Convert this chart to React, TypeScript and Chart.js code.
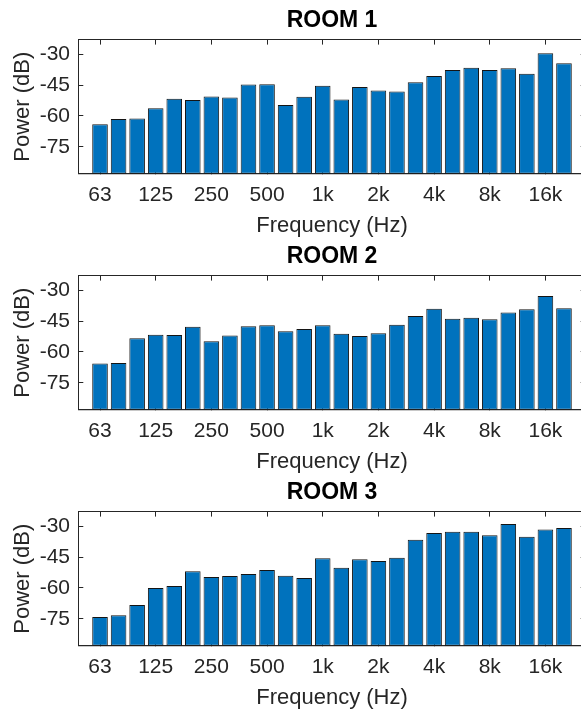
import React, { useEffect, useRef } from "react";
import { Chart, registerables } from "chart.js";

Chart.register(...registerables);

// ---- data ----
const frequencyLabels = ["63", "125", "250", "500", "1k", "2k", "4k", "8k", "16k"];
const labelBandIndex = [0, 3, 6, 9, 12, 15, 18, 21, 24];
const powerTicks = [-75, -60, -45, -30];
const roomTitles = ["ROOM 1", "ROOM 2", "ROOM 3"];

const room1 = [-64.0, -61.4, -61.2, -56.2, -51.6, -52.2, -50.5, -51.0, -44.8, -44.6, -54.7, -50.7, -45.4,
  -52.0, -45.9, -47.7, -48.1, -43.7, -40.6, -37.7, -36.6, -37.7, -36.9, -39.6, -29.6, -34.4];
const room2 = [-65.6, -65.3, -53.3, -51.6, -51.8, -47.8, -54.8, -52.0, -47.5, -47.0, -49.9, -48.9, -47.1,
  -51.2, -52.3, -50.9, -46.8, -42.6, -39.1, -43.9, -43.4, -44.1, -40.9, -39.3, -32.9, -38.8];
const room3 = [-74.1, -73.2, -68.2, -60.0, -59.0, -51.9, -54.7, -54.2, -53.2, -51.3, -54.1, -55.2, -45.6,
  -50.2, -46.1, -46.9, -45.3, -36.6, -33.4, -32.8, -32.7, -34.4, -29.0, -35.2, -31.7, -30.9];
const roomValues = [room1, room2, room3];

// ---- style ----
const FONT = "'Liberation Sans', Arial, Helvetica, sans-serif";
const AXIS = "#262626";
const BAR = "#0072BD";
const X_MIN = -1.17;
const X_MAX = 26.17;
const Y_MIN = -88;
const Y_MAX = -23;
const CANVAS_W = 600;
const CANVAS_H = 250;
const PANEL_STEP = 236;

function inwardGrid() {
  return {
    display: true,
    offset: false,
    drawOnChartArea: false,
    drawTicks: true,
    tickLength: -5,
    tickColor: AXIS,
    tickWidth: 1,
  };
}

function Panel({ title, values, top }: { title: string; values: number[]; top: number }) {
  const ref = useRef<HTMLCanvasElement | null>(null);

  useEffect(() => {
    if (!ref.current) return;
    const chart = new Chart(ref.current, {
      type: "bar",
      data: {
        datasets: [
          {
            data: values.map((v, i) => ({ x: i, y: v })),
            base: Y_MIN,
            backgroundColor: BAR,
            borderColor: "#141414",
            borderWidth: 1,
            borderSkipped: false,
            barPercentage: 0.84,
            categoryPercentage: 1,
          } as any,
        ],
      },
      options: {
        responsive: false,
        animation: false,
        devicePixelRatio: 1,
        layout: { padding: { left: 0, right: 14.3, top: 0, bottom: 0 } },
        plugins: {
          legend: { display: false },
          tooltip: { enabled: false },
          title: {
            display: true,
            text: title,
            fullSize: false,
            color: "#000",
            font: { family: FONT, size: 23, weight: "bold" },
            padding: { top: 7, bottom: 5 },
          },
        },
        scales: {
          x: {
            type: "linear",
            position: "bottom",
            min: X_MIN,
            max: X_MAX,
            offset: false,
            z: 1,
            grid: inwardGrid(),
            border: { display: true, color: AXIS, width: 1.3 },
            ticks: {
              color: AXIS,
              font: { family: FONT, size: 21 },
              padding: 13.6,
              maxRotation: 0,
              autoSkip: false,
              callback: (v: any) => {
                const k = labelBandIndex.indexOf(Number(v));
                return k >= 0 ? frequencyLabels[k] : "";
              },
            },
            afterBuildTicks: (s: any) => {
              s.ticks = labelBandIndex.map((v) => ({ value: v }));
            },
            title: {
              display: true,
              text: "Frequency (Hz)",
              color: AXIS,
              font: { family: FONT, size: 22 },
              padding: { top: 0, bottom: 11 },
            },
            afterFit: (s: any) => {
              s.height = CANVAS_H - 173.8;
            },
          },
          x2: {
            type: "linear",
            position: "top",
            min: X_MIN,
            max: X_MAX,
            offset: false,
            z: 1,
            grid: inwardGrid(),
            border: { display: true, color: AXIS, width: 1 },
            ticks: { display: false },
            afterBuildTicks: (s: any) => {
              s.ticks = labelBandIndex.map((v) => ({ value: v }));
            },
            afterFit: (s: any) => {
              s.height = 0;
            },
          },
          y: {
            type: "linear",
            position: "left",
            min: Y_MIN,
            max: Y_MAX,
            z: 1,
            grid: inwardGrid(),
            border: { display: true, color: AXIS, width: 1 },
            ticks: {
              color: AXIS,
              font: { family: FONT, size: 21 },
              padding: 13.3,
              callback: (v: any) => String(v),
            },
            afterBuildTicks: (s: any) => {
              s.ticks = powerTicks.map((v) => ({ value: v }));
            },
            title: {
              display: true,
              text: "Power (dB)",
              color: AXIS,
              font: { family: FONT, size: 22 },
              padding: { top: 10, bottom: 0 },
            },
            afterFit: (s: any) => {
              s.width = 78.3;
            },
          },
          y2: {
            type: "linear",
            position: "right",
            min: Y_MIN,
            max: Y_MAX,
            z: 1,
            grid: inwardGrid(),
            border: { display: true, color: AXIS, width: 1 },
            ticks: { display: false },
            afterBuildTicks: (s: any) => {
              s.ticks = powerTicks.map((v) => ({ value: v }));
            },
            afterFit: (s: any) => {
              s.width = 0;
            },
          },
        },
      } as any,
    });
    return () => chart.destroy();
  }, [title, values]);

  return (
    <canvas
      ref={ref}
      width={CANVAS_W}
      height={CANVAS_H}
      style={{ position: "absolute", left: 0, top, width: CANVAS_W, height: CANVAS_H, display: "block" }}
    />
  );
}

export default function App() {
  return (
    <div
      style={{
        position: "fixed",
        left: 0,
        top: 0,
        width: 581,
        height: 711,
        overflow: "hidden",
        background: "#fff",
      }}
    >
      {roomTitles.map((t, i) => (
        <Panel key={t} title={t} values={roomValues[i]} top={i * PANEL_STEP} />
      ))}
    </div>
  );
}
